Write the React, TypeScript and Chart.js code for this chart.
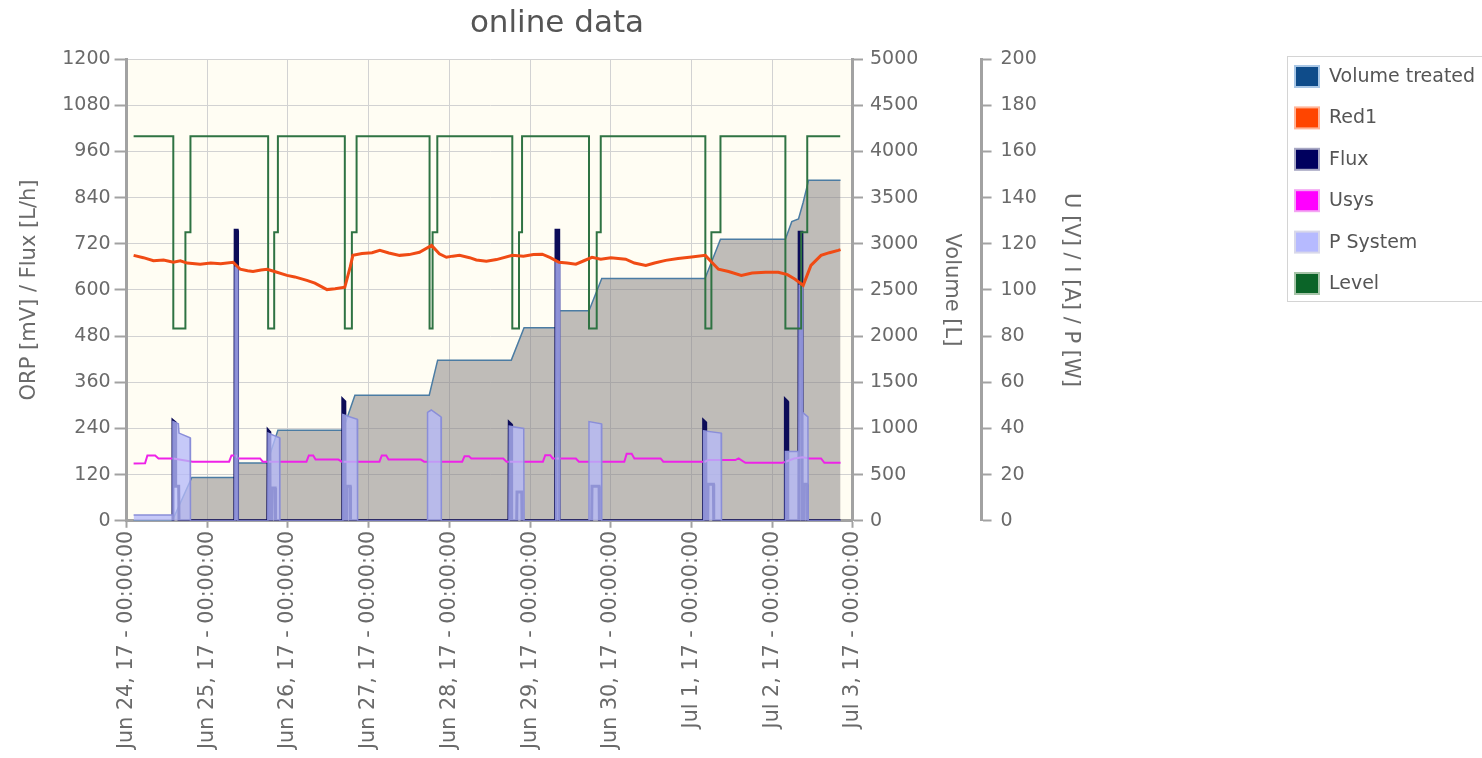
import React, { useEffect, useRef } from 'react';
import { Chart, registerables } from 'chart.js';

Chart.register(...registerables);

const FONT = '"DejaVu Sans", Verdana, sans-serif';

const chartTitle = 'online data';
const leftAxisTitle = 'ORP [mV] / Flux [L/h]';
const volumeAxisTitle = 'Volume [L]';
const powerAxisTitle = 'U [V] / I [A] / P [W]';

// x axis: hours since Jun 24, 17 - 00:00:00
const xTickLabels = [
  'Jun 24, 17 - 00:00:00',
  'Jun 25, 17 - 00:00:00',
  'Jun 26, 17 - 00:00:00',
  'Jun 27, 17 - 00:00:00',
  'Jun 28, 17 - 00:00:00',
  'Jun 29, 17 - 00:00:00',
  'Jun 30, 17 - 00:00:00',
  'Jul 1, 17 - 00:00:00',
  'Jul 2, 17 - 00:00:00',
  'Jul 3, 17 - 00:00:00',
];

// Volume treated [L]
const volumeHours = [2.1, 13.6, 19.4, 32.3, 32.4, 41.8, 45.0, 64.3, 67.9, 90.0, 92.5, 114.4, 118.2, 128.5, 128.6, 137.5, 141.3, 172.0, 176.6, 195.9, 197.8, 199.8, 201.2, 202.8, 212.3];
const volumeValues = [0, 0, 470, 470, 625, 625, 980, 980, 1360, 1360, 1740, 1740, 2090, 2090, 2275, 2275, 2625, 2625, 3050, 3050, 3240, 3270, 3450, 3690, 3690];

// Red1 ORP [mV]
const redHours = [2.1, 5, 8, 11, 13.9, 16, 18, 21.9, 25, 28, 31.7, 33.8, 36, 37.6, 40, 41.8, 44, 47.7, 50, 53.6, 56, 59.6, 62, 64.9, 66.5, 67.3, 70, 73, 75.3, 78, 81.2, 84, 87.1, 90.7, 93, 95.1, 97, 99, 102, 104, 107, 110, 114.7, 118, 121, 123.6, 126, 128.6, 131, 133.6, 136, 138.4, 141, 144, 148.4, 151, 154.4, 157, 160.3, 164, 168, 172.1, 174, 176, 179, 182.8, 186, 190, 193.8, 196.5, 198.8, 201.2, 203.5, 206.5, 209, 211.6, 212.3];
const redValues = [690, 684, 676, 678, 672, 676, 670, 667, 670, 668, 672, 654, 650, 648, 652, 654, 648, 638, 634, 625, 618, 601, 603, 607, 660, 690, 695, 697, 703, 696, 690, 692, 698, 716, 694, 685, 688, 690, 684, 678, 675, 679, 690, 688, 692, 693, 684, 672, 670, 667, 676, 685, 680, 684, 680, 670, 664, 670, 677, 682, 686, 690, 672, 654, 648, 638, 644, 646, 646, 640, 628, 612, 664, 690, 697, 703, 705];

// Flux [L/h]
const fluxHours = [13.6, 13.8, 14.5, 14.6, 15.5, 15.6, 32.2, 32.3, 32.9, 33.0, 42.0, 42.1, 42.6, 42.7, 43.2, 43.3, 44.2, 44.3, 64.2, 64.3, 64.9, 65.0, 65.4, 65.5, 66.5, 66.6, 113.7, 113.8, 114.4, 114.5, 116.0, 116.1, 117.5, 117.6, 127.6, 127.7, 128.5, 128.6, 138.3, 138.4, 140.5, 140.6, 171.5, 171.6, 172.2, 172.3, 172.8, 172.9, 174.5, 174.6, 195.8, 195.9, 196.5, 196.6, 199.9, 200.0, 200.8, 200.9, 201.2, 201.3, 202.2, 202.3, 212.3];
const fluxValues = [0, 260, 255, 90, 90, 0, 0, 755, 755, 0, 0, 235, 230, 0, 0, 85, 85, 0, 0, 315, 310, 0, 0, 90, 90, 0, 0, 255, 250, 0, 0, 75, 75, 0, 0, 755, 755, 0, 0, 90, 90, 0, 0, 260, 255, 0, 0, 95, 95, 0, 0, 315, 310, 0, 0, 750, 750, 0, 0, 95, 95, 0, 0];

// Usys [V]
const usysHours = [2.1, 5.5, 6.2, 8.5, 9.5, 13.9, 19.6, 30.5, 31.2, 32.5, 33.2, 39.7, 40.5, 53.5, 54.2, 55.5, 56.2, 63, 64, 75.2, 75.9, 77.2, 77.9, 87.5, 88.5, 99.8, 100.5, 101.8, 102.5, 112, 113, 123.8, 124.5, 126, 126.7, 133.6, 134.5, 148, 148.7, 150.2, 151, 158.8, 159.6, 172, 173, 181, 182, 184, 195, 196, 198.5, 201, 203, 206.5, 207.5, 212.3];
const usysValues = [24.8, 24.9, 28.3, 28.3, 27.0, 27.0, 25.6, 25.6, 28.3, 28.3, 27.0, 27.0, 25.6, 25.6, 28.3, 28.3, 26.5, 26.5, 25.6, 25.6, 28.3, 28.3, 26.5, 26.5, 25.6, 25.6, 28.0, 28.0, 27.0, 27.0, 25.6, 25.6, 28.4, 28.4, 27.0, 27.0, 25.6, 25.6, 29.0, 29.0, 27.0, 27.0, 25.6, 25.6, 26.3, 26.3, 27.0, 25.1, 25.1, 25.6, 27.0, 27.5, 27.0, 27.0, 25.1, 25.1];

// P System [W]
const pHours = [2.1, 13.7, 13.8, 15.4, 15.6, 18.9, 19.0, 32.2, 32.3, 33.0, 33.1, 42.0, 42.1, 45.5, 45.6, 64.2, 64.3, 68.6, 68.7, 89.4, 89.5, 90.6, 93.5, 93.6, 113.7, 113.8, 118.1, 118.2, 127.6, 127.7, 128.7, 128.8, 137.4, 137.5, 141.2, 141.3, 171.5, 171.6, 176.8, 176.9, 195.8, 195.9, 199.9, 200.0, 200.9, 201.0, 202.6, 202.7, 212.3];
const pValues = [2.5, 2.5, 43, 42, 38, 36, 0, 0, 110, 110, 0, 0, 38, 36, 0, 0, 46, 44, 0, 0, 47, 48, 45, 0, 0, 41, 40, 0, 0, 112, 112, 0, 0, 43, 42, 0, 0, 39, 38, 0, 0, 30, 30, 102, 102, 47, 45, 0, 0];

// Level
const levelHours = [2.1, 13.9, 13.9, 17.5, 17.5, 19.0, 19.0, 42.1, 42.1, 43.9, 43.9, 45.0, 45.0, 64.9, 64.9, 67.0, 67.0, 68.4, 68.4, 90.1, 90.1, 91.0, 91.0, 92.4, 92.4, 114.7, 114.7, 116.7, 116.7, 117.6, 117.6, 137.5, 137.5, 139.8, 139.8, 141.0, 141.0, 172.1, 172.1, 173.9, 173.9, 176.6, 176.6, 195.9, 195.9, 200.6, 200.6, 202.4, 202.4, 212.2];
const levelValues = [1000, 1000, 500, 500, 750, 750, 1000, 1000, 500, 500, 750, 750, 1000, 1000, 500, 500, 750, 750, 1000, 1000, 500, 500, 750, 750, 1000, 1000, 500, 500, 750, 750, 1000, 1000, 500, 500, 750, 750, 1000, 1000, 500, 500, 750, 750, 1000, 1000, 500, 500, 750, 750, 1000, 1000];

const legendLabels = ['Volume treated', 'Red1', 'Flux', 'Usys', 'P System', 'Level'];
const legendFills = ['#0f4c8a', '#ff4500', '#00005e', '#ff00ff', '#b6baff', '#0b6428'];
const legendEdges = ['#a9c7e6', '#ffb497', '#a8a8c4', '#f3a6f3', '#d8d8ea', '#a6c4a8'];

const zip = (xs: number[], ys: number[]) => xs.map((x, i) => ({ x, y: ys[i] }));
const plainTick = (v: any) => String(v);

const bgPlugin = {
  id: 'plotBg',
  beforeDraw(chart: any) {
    const { ctx, chartArea } = chart;
    if (!chartArea) return;
    ctx.save();
    ctx.fillStyle = '#fffdf3';
    ctx.fillRect(chartArea.left, chartArea.top, chartArea.right - chartArea.left, chartArea.bottom - chartArea.top);
    ctx.restore();
  },
};

const boxLegendPlugin = {
  id: 'boxLegend',
  afterDraw(chart: any) {
    const ctx = chart.ctx;
    const x0 = chart.width - 195;
    const y0 = 56;
    const rowH = 41.4;
    ctx.save();
    ctx.fillStyle = '#ffffff';
    ctx.fillRect(x0, y0, 220, 246);
    ctx.strokeStyle = '#d4d4d4';
    ctx.lineWidth = 1;
    ctx.strokeRect(x0 + 0.5, y0 + 0.5, 220, 245);
    ctx.font = '19px ' + FONT;
    ctx.textBaseline = 'middle';
    ctx.textAlign = 'left';
    legendLabels.forEach((label, i) => {
      const cy = y0 + 20 + i * rowH;
      ctx.fillStyle = legendFills[i];
      ctx.fillRect(x0 + 8, cy - 10, 24, 21);
      ctx.strokeStyle = legendEdges[i];
      ctx.lineWidth = 2;
      ctx.strokeRect(x0 + 8, cy - 10, 24, 21);
      ctx.fillStyle = '#555555';
      ctx.fillText(label, x0 + 42, cy + 1);
    });
    ctx.restore();
  },
};

export default function App() {
  const ref = useRef<HTMLCanvasElement | null>(null);

  useEffect(() => {
    document.body.style.margin = '0';
    const canvas = ref.current;
    if (!canvas) return;
    const axisGray = '#a2a2a2';
    const tickColor = '#6a6a6a';
    const chart = new Chart(canvas, {
      type: 'line',
      data: {
        datasets: [
          {
            label: 'Red1',
            data: zip(redHours, redValues),
            yAxisID: 'y',
            borderColor: '#f04b14',
            borderWidth: 3,
            pointRadius: 0,
            order: 0,
          },
          {
            label: 'Level',
            data: zip(levelHours, levelValues),
            yAxisID: 'y',
            borderColor: '#2f7343',
            borderWidth: 2,
            pointRadius: 0,
            order: 1,
          },
          {
            label: 'P System',
            data: zip(pHours, pValues),
            yAxisID: 'y2',
            borderColor: '#8a8ed8',
            backgroundColor: 'rgba(182,186,248,0.78)',
            borderWidth: 1.5,
            fill: 'origin',
            pointRadius: 0,
            order: 2,
          },
          {
            label: 'Usys',
            data: zip(usysHours, usysValues),
            yAxisID: 'y2',
            borderColor: '#ee22e8',
            borderWidth: 2,
            pointRadius: 0,
            order: 3,
          },
          {
            label: 'Flux',
            data: zip(fluxHours, fluxValues),
            yAxisID: 'y',
            borderColor: '#0c0c58',
            borderWidth: 3,
            pointRadius: 0,
            order: 4,
          },
          {
            label: 'Volume treated',
            data: zip(volumeHours, volumeValues),
            yAxisID: 'y1',
            borderColor: '#4b7ca3',
            backgroundColor: 'rgba(128,123,126,0.5)',
            borderWidth: 1.5,
            fill: 'origin',
            pointRadius: 0,
            order: 5,
          },
        ],
      },
      options: {
        responsive: false,
        animation: false,
        events: [],
        layout: { padding: { left: 0, right: 368, top: 0, bottom: 6 } },
        plugins: {
          legend: { display: false },
          tooltip: { enabled: false },
          title: {
            display: true,
            text: chartTitle,
            color: '#555555',
            font: { family: FONT, size: 31, weight: 'normal' },
            padding: { top: 5, bottom: 17 },
          },
        },
        scales: {
          x: {
            type: 'linear',
            min: 0,
            max: 216,
            ticks: {
              stepSize: 24,
              autoSkip: false,
              minRotation: 90,
              maxRotation: 90,
              padding: 3,
              color: tickColor,
              font: { family: FONT, size: 20.7 },
              callback: (v: any) => xTickLabels[Math.round(Number(v) / 24)] ?? '',
            },
            grid: { color: '#d2d2d2', tickLength: 7, tickColor: axisGray, tickWidth: 2 },
            border: { color: axisGray, width: 3 },
          },
          y: {
            type: 'linear',
            position: 'left',
            min: 0,
            max: 1200,
            ticks: { stepSize: 120, padding: 4, color: tickColor, font: { family: FONT, size: 19 }, callback: plainTick },
            grid: { color: '#d2d2d2', tickLength: 12, tickColor: axisGray, tickWidth: 2 },
            border: { color: axisGray, width: 3 },
            title: {
              display: true,
              text: leftAxisTitle,
              color: tickColor,
              font: { family: FONT, size: 21 },
              padding: { top: 17, bottom: 16 },
            },
          },
          y1: {
            type: 'linear',
            position: 'right',
            min: 0,
            max: 5000,
            ticks: { stepSize: 500, padding: 7, color: tickColor, font: { family: FONT, size: 19 }, callback: plainTick },
            grid: { drawOnChartArea: false, tickLength: 10, tickColor: axisGray, tickWidth: 2 },
            border: { color: axisGray, width: 3 },
            title: {
              display: true,
              text: volumeAxisTitle,
              color: tickColor,
              font: { family: FONT, size: 21 },
              padding: { top: 17, bottom: 14 },
            },
          },
          y2: {
            type: 'linear',
            position: 'right',
            min: 0,
            max: 200,
            ticks: { stepSize: 20, padding: 9, color: tickColor, font: { family: FONT, size: 19 }, callback: plainTick },
            grid: { drawOnChartArea: false, tickLength: 10, tickColor: axisGray, tickWidth: 2 },
            border: { color: axisGray, width: 3 },
            title: {
              display: true,
              text: powerAxisTitle,
              color: tickColor,
              font: { family: FONT, size: 21 },
              padding: { top: 31, bottom: 12 },
            },
          },
        },
      },
      plugins: [bgPlugin, boxLegendPlugin],
    } as any);
    return () => chart.destroy();
  }, []);

  return (
    <div style={{ width: 1482, height: 758, position: 'relative', background: '#ffffff' }}>
      <canvas ref={ref} width={1482} height={758} style={{ display: 'block' }} />
    </div>
  );
}
